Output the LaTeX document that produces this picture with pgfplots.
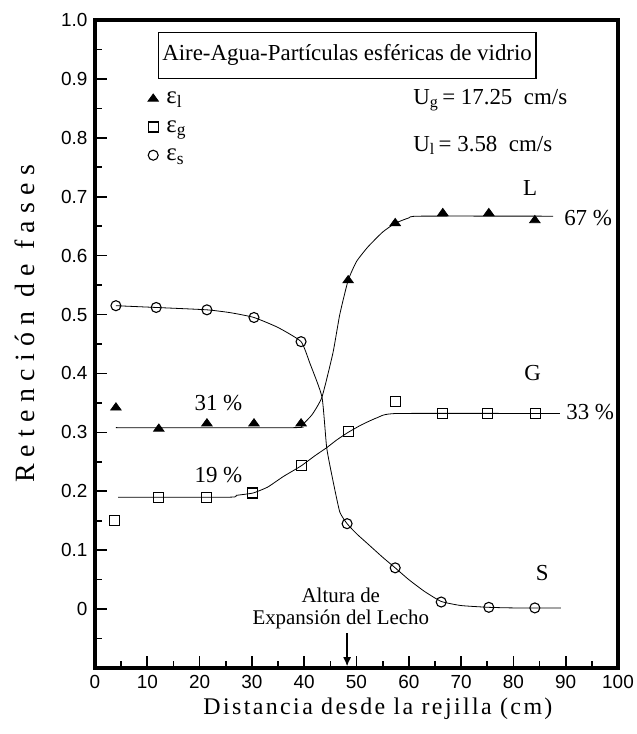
\documentclass[border=0pt]{standalone}
\usepackage{fontspec}
\setmainfont{Liberation Serif}
\newfontfamily\ticksf{Liberation Sans}
\newfontfamily\xlabfont[LetterSpace=10]{Liberation Serif}
\newfontfamily\ylabfont[LetterSpace=26]{Liberation Serif}
\usepackage{pgfplots}
\pgfplotsset{compat=1.18}
\usetikzlibrary{arrows.meta}
\newcommand\fs[1]{\fontsize{#1}{#1}\selectfont}

\begin{document}
\begin{tikzpicture}
\useasboundingbox (-95bp,-66bp) rectangle (542bp,668bp);
\begin{axis}[
    scale only axis, width=523bp, height=648bp,
    xmin=0, xmax=100, ymin=-0.1, ymax=1.0,
    xtick={0,10,...,100}, minor xtick={5,15,...,95},
    ytick={0,0.1,0.2,0.3,0.4,0.5,0.6,0.7,0.8,0.9,1.0},
    yticklabels={0,0.1,0.2,0.3,0.4,0.5,0.6,0.7,0.8,0.9,1.0},
    minor ytick={-0.05,0.05,0.15,0.25,0.35,0.45,0.55,0.65,0.75,0.85,0.95},
    xtick pos=left, ytick pos=left, tick align=inside,
    major tick length=12bp, minor tick length=7bp,
    tick style={black, line width=1.7bp},
    /pgf/number format/assume math mode=true,
    ticklabel style={font=\ticksf\fs{19}},
    xticklabel style={yshift=-4bp},
    yticklabel style={xshift=-4bp},
    xlabel={\xlabfont\fs{24}Distancia desde la rejilla (cm)},
    xlabel style={at={(axis description cs:0.541,-0.0725)}, anchor=base},
    ylabel={\ylabfont\fs{28}Retención de fases},
    ylabel style={at={(axis description cs:-0.134,0.531)}, anchor=center},
    legend style={at={(axis description cs:0.101,0.892)}, anchor=north west,
      draw=none, fill=none, font=\fs{25}, row sep=11bp, column sep=6bp,
      inner sep=0pt},
    legend cell align=left,
    clip=false,
  ]
  % fitted curves
  \addplot[forget plot, black, line width=0.8bp, smooth, tension=0.3] coordinates {
    (4,0.308) (38,0.308) (39.4,0.311) (41.5,0.33) (43.4,0.36) (45.5,0.435)
    (46.8,0.50) (48.4,0.558) (50,0.59) (52.2,0.615) (55,0.64) (57.4,0.655)
    (60,0.664) (62,0.667) (87.6,0.667)};
  \addplot[forget plot, black, line width=0.8bp, smooth, tension=0.3] coordinates {
    (4.4,0.19) (25.8,0.19) (27,0.193) (30.2,0.197) (33,0.207) (36,0.225)
    (39.4,0.243) (42,0.26) (44.3,0.274) (46.2,0.287) (48.4,0.30) (51,0.313)
    (54,0.325) (57.7,0.332) (88.9,0.332)};
  \addplot[forget plot, black, line width=0.8bp, smooth, tension=0.3] coordinates {
    (4,0.515) (11.7,0.512) (21.4,0.508) (26,0.503) (30.4,0.495) (35,0.478)
    (39.4,0.454) (41.1,0.417) (43.4,0.36) (44.3,0.274) (45.5,0.218)
    (46.8,0.165) (48.2,0.145) (50,0.128) (52,0.112) (55,0.088) (57.4,0.07)
    (60,0.05) (63,0.03) (66.2,0.013) (70,0.006) (75.3,0.003) (80,0.002)
    (89.1,0.002)};
  % measured points
  \addplot[only marks, mark=triangle*, mark size=6bp, black, line width=0.8bp,
    mark options={yscale=0.8}] coordinates {
    (4,0.342) (12.2,0.306) (21.4,0.315) (30.4,0.315) (39.4,0.315)
    (48.4,0.558) (57.4,0.655) (66.5,0.672) (75.3,0.672) (84.1,0.66)};
  \addlegendentry{ε\textsubscript{l}}
  \addplot[only marks, mark=square, mark size=5bp, black, line width=1.1bp,
    mark options={fill=white}] coordinates {
    (3.8,0.151) (12.2,0.19) (21.4,0.189) (30.2,0.197) (39.4,0.243)
    (48.4,0.301) (57.5,0.352) (66.4,0.332) (75.1,0.332) (84.3,0.332)};
  \addlegendentry{ε\textsubscript{g}}
  \addplot[only marks, mark=o, mark size=5bp, black, line width=1.1bp,
    mark options={fill=white}] coordinates {
    (4,0.515) (11.7,0.512) (21.4,0.508) (30.4,0.495) (39.4,0.454)
    (48.2,0.145) (57.4,0.07) (66.2,0.012) (75.3,0.003) (84.1,0.002)};
  \addlegendentry{ε\textsubscript{s}}

  % heavy frame
  \draw[black, line width=3.6bp, line cap=rect] (rel axis cs:0,0) rectangle (rel axis cs:1,1);

  \node[draw, line width=1.5bp, inner xsep=4bp, minimum height=46bp, font=\fs{23}]
    at (axis cs:48.2,0.94) {Aire-Agua-Partículas esféricas de vidrio};
  \node[anchor=west, font=\fs{23}] at (axis cs:60.2,0.864) {U\textsubscript{g}\,= 17.25~~cm/s};
  \node[anchor=west, font=\fs{23}] at (axis cs:60.2,0.787) {U\textsubscript{l}\,= 3.58~~cm/s};
  \node[font=\fs{23}] at (axis cs:83.2,0.714) {L};
  \node[font=\fs{23}] at (axis cs:83.7,0.40) {G};
  \node[font=\fs{23}] at (axis cs:85.5,0.061) {S};
  \node[anchor=west, inner sep=1bp, font=\fs{23}] at (axis cs:89.5,0.664) {67 \%};
  \node[anchor=west, inner sep=1bp, font=\fs{23}] at (axis cs:89.9,0.335) {33 \%};
  \node[font=\fs{23}] at (axis cs:23.6,0.35) {31 \%};
  \node[font=\fs{23}] at (axis cs:23.6,0.228) {19 \%};
  \node[align=center, anchor=south, inner sep=0pt, font=\fontsize{21}{22}\selectfont]
    at (axis cs:47,-0.034) {Altura de\\Expansión del Lecho};
  \draw[black, line width=1.2bp, -{Latex[length=9bp,width=8bp]}]
    (axis cs:48.2,-0.041) -- (axis cs:48.2,-0.097);
\end{axis}
\end{tikzpicture}
\end{document}
